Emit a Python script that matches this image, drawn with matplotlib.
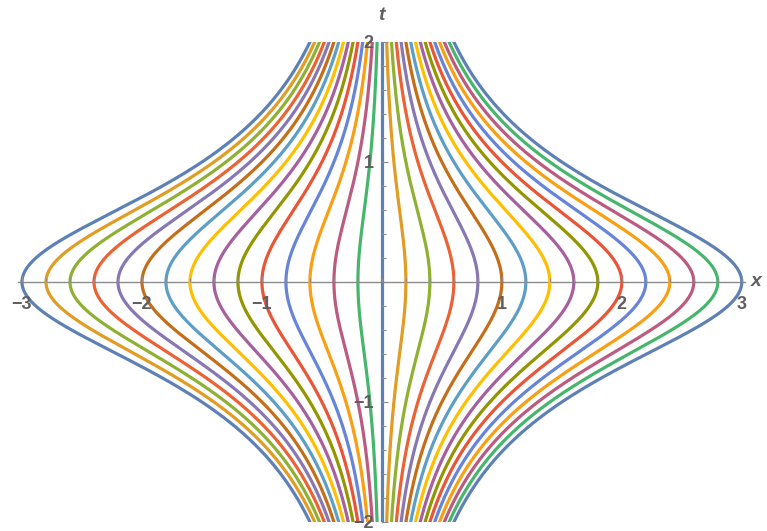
import numpy as np
import matplotlib.pyplot as plt
from matplotlib.ticker import FixedLocator, MultipleLocator

# starting points x(0) of each characteristic, x(t) = x0 / (1 + t^2)
x_start = [-3.0, -2.8, -2.6, -2.4, -2.2, -2.0, -1.8, -1.6, -1.4, -1.2, -1.0,
           -0.8, -0.6, -0.4, -0.2, 0.0, 0.2, 0.4, 0.6, 0.8, 1.0, 1.2, 1.4,
           1.6, 1.8, 2.0, 2.2, 2.4, 2.6, 2.8, 3.0]

# default colour cycle, repeated over the curves
palette = ["#5E81B5", "#E19C24", "#8FB032", "#EB6235", "#8778B3",
           "#C56E1A", "#5D9EC7", "#FFBF00", "#A5609D", "#929600",
           "#E95536", "#6685D9", "#F89F13", "#BC5B80", "#47B66D"]

x_ticks = [-3, -2, -1, 1, 2, 3]
t_ticks = [-2, -1, 1, 2]

axis_gray = "#8c8c8c"
text_gray = "#5f5f5f"

fig = plt.figure(figsize=(7.67, 5.31), dpi=100)
ax = fig.add_axes([18.4 / 767, 9 / 531, 727 / 767, 480 / 531])

t = np.linspace(-2.05, 2.05, 801)
for i, x0 in enumerate(x_start):
    ax.plot(x0 / (1 + t ** 2), t, color=palette[i % len(palette)],
            lw=2.3, zorder=3, solid_capstyle="butt")

ax.set_xlim(-3.03, 3.03)
ax.set_ylim(-2, 2)

for side in ["top", "right"]:
    ax.spines[side].set_visible(False)
for side in ["bottom", "left"]:
    ax.spines[side].set_position("zero")
    ax.spines[side].set_color(axis_gray)
    ax.spines[side].set_linewidth(1.0)
    ax.spines[side].set_zorder(2)

# tick labels sit on top of the curves
ax.xaxis.set_zorder(4)
ax.yaxis.set_zorder(4)

ax.xaxis.set_major_locator(FixedLocator(x_ticks))
ax.yaxis.set_major_locator(FixedLocator(t_ticks))
ax.xaxis.set_minor_locator(MultipleLocator(0.2))
ax.yaxis.set_minor_locator(MultipleLocator(0.2))
ax.set_xticklabels(["\u2212" + str(-v) if v < 0 else str(v) for v in x_ticks])
ax.set_yticklabels(["\u2212" + str(-v) if v < 0 else str(v) for v in t_ticks])

ax.tick_params(axis="both", which="both", direction="in", color=axis_gray,
               width=0.8)
ax.tick_params(axis="both", which="major", length=4.5)
ax.tick_params(axis="both", which="minor", length=3)
ax.tick_params(axis="x", which="major", pad=10)
ax.tick_params(axis="y", which="major", pad=6)
for lab in ax.get_xticklabels() + ax.get_yticklabels():
    lab.set_fontfamily("Liberation Sans")
    lab.set_fontweight("bold")
    lab.set_fontsize(13)
    lab.set_color(text_gray)

ax.text(3.12, 0, "x", ha="center", va="center", fontsize=14, style="italic",
        fontweight="bold", color=text_gray, family="Liberation Sans",
        clip_on=False)
ax.text(0, 2.225, "t", ha="center", va="center", fontsize=14, style="italic",
        fontweight="bold", color=text_gray, family="Liberation Sans",
        clip_on=False)

fig.savefig("out.png", dpi=100)
